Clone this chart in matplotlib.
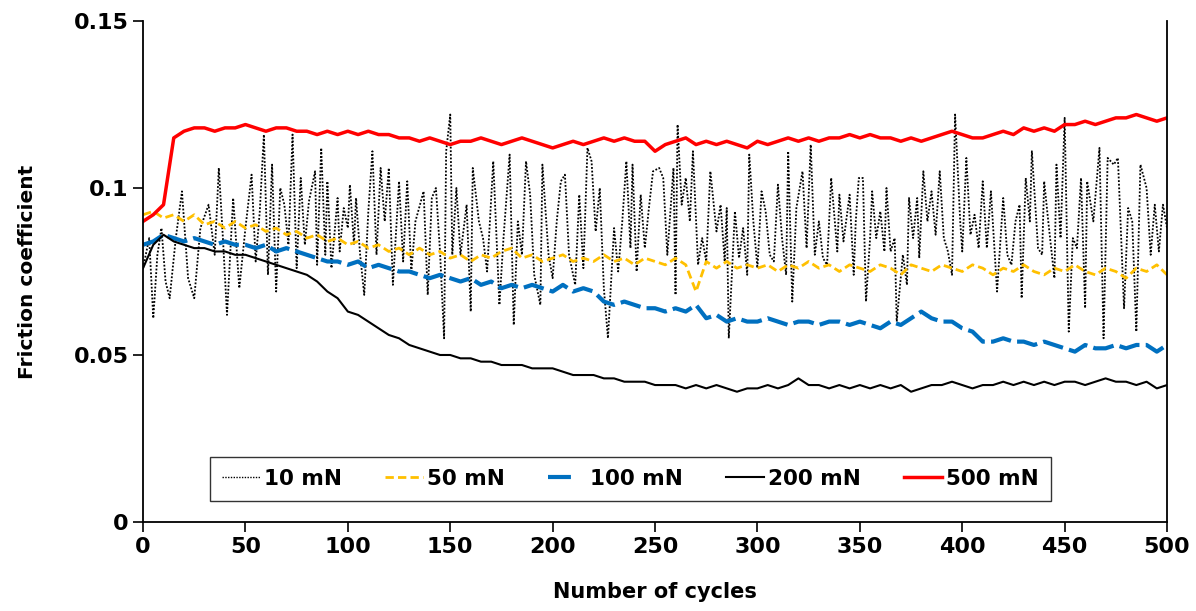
import matplotlib
matplotlib.use("Agg")
import matplotlib.pyplot as plt
from matplotlib.lines import Line2D

plt.rcParams['font.family'] = ['DejaVu Sans']
plt.rcParams['font.weight'] = 'bold'

# cycles sampled every 5 for the smoother curves
cycles = list(range(0, 501, 5))

mu_500 = [0.090, 0.092, 0.095, 0.115, 0.117, 0.118, 0.118, 0.117, 0.118, 0.118,
          0.119, 0.118, 0.117, 0.118, 0.118, 0.117, 0.117, 0.116, 0.117, 0.116,
          0.117, 0.116, 0.117, 0.116, 0.116, 0.115, 0.115, 0.114, 0.115, 0.114,
          0.113, 0.114, 0.114, 0.115, 0.114, 0.113, 0.114, 0.115, 0.114, 0.113,
          0.112, 0.113, 0.114, 0.113, 0.114, 0.115, 0.114, 0.115, 0.114, 0.114,
          0.111, 0.113, 0.114, 0.115, 0.113, 0.114, 0.113, 0.114, 0.113, 0.112,
          0.114, 0.113, 0.114, 0.115, 0.114, 0.115, 0.114, 0.115, 0.115, 0.116,
          0.115, 0.116, 0.115, 0.115, 0.114, 0.115, 0.114, 0.115, 0.116, 0.117,
          0.116, 0.115, 0.115, 0.116, 0.117, 0.116, 0.118, 0.117, 0.118, 0.117,
          0.119, 0.119, 0.120, 0.119, 0.120, 0.121, 0.121, 0.122, 0.121, 0.120, 0.121]

mu_200 = [0.076, 0.083, 0.086, 0.084, 0.083, 0.082, 0.082, 0.081, 0.081, 0.080,
          0.080, 0.079, 0.078, 0.077, 0.076, 0.075, 0.074, 0.072, 0.069, 0.067,
          0.063, 0.062, 0.060, 0.058, 0.056, 0.055, 0.053, 0.052, 0.051, 0.050,
          0.050, 0.049, 0.049, 0.048, 0.048, 0.047, 0.047, 0.047, 0.046, 0.046,
          0.046, 0.045, 0.044, 0.044, 0.044, 0.043, 0.043, 0.042, 0.042, 0.042,
          0.041, 0.041, 0.041, 0.040, 0.041, 0.040, 0.041, 0.040, 0.039, 0.040,
          0.040, 0.041, 0.040, 0.041, 0.043, 0.041, 0.041, 0.040, 0.041, 0.040,
          0.041, 0.040, 0.041, 0.040, 0.041, 0.039, 0.040, 0.041, 0.041, 0.042,
          0.041, 0.040, 0.041, 0.041, 0.042, 0.041, 0.042, 0.041, 0.042, 0.041,
          0.042, 0.042, 0.041, 0.042, 0.043, 0.042, 0.042, 0.041, 0.042, 0.040, 0.041]

mu_100 = [0.083, 0.084, 0.086, 0.085, 0.084, 0.085, 0.084, 0.083, 0.084, 0.083,
          0.083, 0.082, 0.083, 0.081, 0.082, 0.081, 0.080, 0.079, 0.078, 0.078,
          0.077, 0.078, 0.076, 0.077, 0.076, 0.075, 0.075, 0.074, 0.073, 0.074,
          0.073, 0.072, 0.073, 0.071, 0.072, 0.070, 0.071, 0.070, 0.071, 0.070,
          0.069, 0.071, 0.069, 0.070, 0.069, 0.066, 0.065, 0.066, 0.065, 0.064,
          0.064, 0.063, 0.064, 0.063, 0.065, 0.061, 0.062, 0.060, 0.061, 0.060,
          0.060, 0.061, 0.060, 0.059, 0.060, 0.060, 0.059, 0.060, 0.060, 0.059,
          0.060, 0.059, 0.058, 0.060, 0.059, 0.061, 0.063, 0.061, 0.060, 0.060,
          0.058, 0.057, 0.054, 0.054, 0.055, 0.054, 0.054, 0.053, 0.054, 0.053,
          0.052, 0.051, 0.053, 0.052, 0.052, 0.053, 0.052, 0.053, 0.053, 0.051, 0.053]

mu_50 = [0.092, 0.093, 0.091, 0.092, 0.090, 0.092, 0.089, 0.090, 0.088, 0.090,
         0.088, 0.089, 0.087, 0.088, 0.086, 0.087, 0.085, 0.086, 0.084, 0.085,
         0.083, 0.084, 0.082, 0.083, 0.081, 0.082, 0.080, 0.082, 0.080, 0.081,
         0.079, 0.080, 0.078, 0.080, 0.079, 0.081, 0.082, 0.079, 0.080, 0.078,
         0.079, 0.080, 0.078, 0.079, 0.078, 0.080, 0.078, 0.079, 0.077, 0.079,
         0.078, 0.077, 0.079, 0.077, 0.069, 0.078, 0.076, 0.078, 0.076, 0.077,
         0.076, 0.077, 0.075, 0.077, 0.076, 0.078, 0.076, 0.077, 0.075, 0.077,
         0.076, 0.075, 0.077, 0.076, 0.074, 0.077, 0.076, 0.075, 0.077, 0.076,
         0.075, 0.077, 0.076, 0.074, 0.076, 0.075, 0.077, 0.075, 0.074, 0.076,
         0.075, 0.077, 0.075, 0.074, 0.076, 0.075, 0.073, 0.076, 0.075, 0.077, 0.074]

# 10 mN: turning points
cycles_10 = [0, 3, 5, 7, 9, 11, 13, 16, 19, 22, 25, 28, 32, 35, 37, 39, 41, 44, 47, 50,
             53, 55, 57, 59, 61, 63, 65, 67, 69, 71, 73, 75, 77, 79, 81, 84, 85, 87, 89, 90,
             92, 95, 96, 98, 100, 101, 103, 104, 106, 108, 110, 112, 114, 116, 118, 120, 122, 125, 127, 129,
             131, 133, 137, 139, 141, 143, 145, 147, 148, 150, 151, 153, 155, 158, 160, 161, 164, 166, 168, 171,
             174, 176, 179, 181, 183, 185, 187, 189, 191, 194, 195, 198, 200, 202, 204, 206, 208, 211, 213, 215,
             217, 219, 221, 223, 225, 227, 230, 232, 234, 236, 238, 239, 241, 243, 245, 247, 249, 252, 254, 256,
             259, 260, 261, 263, 265, 267, 268.5, 271, 273, 275, 277, 280, 282, 284, 285, 286, 289, 291, 293, 295,
             296, 298, 300, 302, 304, 306, 308, 310, 312, 314, 315, 317, 319, 322, 324, 326, 328, 330, 332, 334,
             336, 339, 340, 342, 345, 347, 348, 349.5, 351.5, 353, 355, 356, 358, 360, 362, 363, 365, 367, 368, 371,
             373, 374, 376, 378, 379, 381, 383, 385, 387, 389, 391, 393, 395, 396.5, 399, 400, 402, 404, 406, 408,
             410, 412, 414, 417, 420, 422, 424, 426, 428, 429, 431, 433, 434, 437, 439, 440, 442, 445, 446, 448,
             450, 452, 454, 456, 458, 460, 461, 464, 467, 469, 471, 474, 476, 479, 481, 483, 485, 487, 490, 492,
             494, 496, 498, 500]
mu_10 = [0.076, 0.085, 0.061, 0.080, 0.088, 0.072, 0.067, 0.085, 0.099, 0.073, 0.067, 0.088, 0.095, 0.080, 0.106, 0.085, 0.062, 0.097, 0.070, 0.088,
         0.104, 0.078, 0.093, 0.116, 0.074, 0.107, 0.069, 0.100, 0.095, 0.083, 0.116, 0.076, 0.103, 0.083, 0.096, 0.105, 0.077, 0.112, 0.080, 0.102,
         0.076, 0.097, 0.081, 0.094, 0.088, 0.101, 0.083, 0.097, 0.080, 0.068, 0.093, 0.111, 0.080, 0.106, 0.090, 0.106, 0.071, 0.102, 0.078, 0.102,
         0.075, 0.090, 0.099, 0.068, 0.097, 0.100, 0.081, 0.055, 0.111, 0.122, 0.080, 0.100, 0.080, 0.095, 0.063, 0.106, 0.090, 0.085, 0.075, 0.108,
         0.065, 0.085, 0.110, 0.059, 0.090, 0.080, 0.108, 0.098, 0.074, 0.065, 0.107, 0.080, 0.073, 0.090, 0.102, 0.104, 0.080, 0.071, 0.098, 0.076,
         0.112, 0.108, 0.087, 0.100, 0.070, 0.055, 0.088, 0.075, 0.090, 0.108, 0.082, 0.107, 0.075, 0.098, 0.082, 0.094, 0.105, 0.106, 0.103, 0.080,
         0.106, 0.068, 0.119, 0.095, 0.103, 0.090, 0.111, 0.077, 0.085, 0.078, 0.105, 0.087, 0.095, 0.078, 0.094, 0.055, 0.093, 0.079, 0.088, 0.074,
         0.110, 0.090, 0.076, 0.099, 0.093, 0.080, 0.078, 0.101, 0.085, 0.074, 0.111, 0.066, 0.094, 0.105, 0.082, 0.113, 0.080, 0.090, 0.079, 0.077,
         0.103, 0.081, 0.098, 0.084, 0.098, 0.074, 0.090, 0.103, 0.103, 0.066, 0.085, 0.099, 0.085, 0.093, 0.081, 0.100, 0.081, 0.085, 0.060, 0.080,
         0.071, 0.097, 0.085, 0.097, 0.079, 0.105, 0.090, 0.099, 0.086, 0.105, 0.085, 0.081, 0.074, 0.122, 0.090, 0.081, 0.109, 0.086, 0.092, 0.082,
         0.102, 0.082, 0.099, 0.069, 0.097, 0.080, 0.077, 0.090, 0.095, 0.067, 0.103, 0.090, 0.111, 0.082, 0.080, 0.102, 0.090, 0.073, 0.107, 0.085,
         0.121, 0.057, 0.085, 0.082, 0.103, 0.064, 0.102, 0.090, 0.112, 0.055, 0.109, 0.107, 0.109, 0.064, 0.094, 0.090, 0.057, 0.107, 0.100, 0.080,
         0.095, 0.081, 0.095, 0.088]

labels = ['10 mN', '50 mN', '100 mN', '200 mN', '500 mN']

fig = plt.figure(figsize=(11.96, 6.11), dpi=100)
ax = fig.add_axes([0.1196, 0.1457, 0.8562, 0.8199])

ax.plot(cycles_10, mu_10, color='black', lw=1.3, linestyle=(0, (1, 1)))
ax.plot(cycles, mu_50, color='#FFC000', lw=2.0, linestyle=(0, (3, 1.5)))
ax.plot(cycles, mu_100, color='#0070C0', lw=3.0, linestyle=(0, (5, 1.5)))
ax.plot(cycles, mu_200, color='black', lw=1.5)
ax.plot(cycles, mu_500, color='#FF0000', lw=2.5)

ax.set_xlim(0, 500)
ax.set_ylim(0, 0.15)
ax.set_xticks(range(0, 501, 50))
ax.set_yticks([0, 0.05, 0.1, 0.15])
ax.set_yticklabels(['0', '0.05', '0.1', '0.15'])
ax.tick_params(labelsize=16, length=7, width=1.2, direction='out')
for lab in ax.get_xticklabels() + ax.get_yticklabels():
    lab.set_fontweight('bold')
ax.spines['top'].set_visible(False)
for s in ['left', 'bottom', 'right']:
    ax.spines[s].set_linewidth(1.3)

ax.set_xlabel('Number of cycles', fontsize=15, fontweight='bold', labelpad=18)
ax.set_ylabel('Friction coefficient', fontsize=14.5, fontweight='bold', labelpad=26)

# legend keys drawn like the original's short samples
handles = [
    Line2D([], [], color='black', lw=1.0, linestyle=(0, (1, 1))),
    Line2D([], [], color='#FFC000', lw=2.0, linestyle=(0, (3, 1.5))),
    Line2D([], [], color='#0070C0', lw=3.0, linestyle=(0, (5.5, 12))),
    Line2D([], [], color='black', lw=1.5),
    Line2D([], [], color='#FF0000', lw=2.5),
]
leg = ax.legend(handles, labels, loc='center', bbox_to_anchor=(0.476, 0.086), ncol=5,
                fontsize=15.5, frameon=True, fancybox=False, edgecolor='black',
                handlelength=1.75, columnspacing=2.0, handletextpad=0.2,
                borderpad=0.55, borderaxespad=0)
leg.get_frame().set_linewidth(1.0)
for t in leg.get_texts():
    t.set_fontweight('bold')

fig.savefig('out.png', dpi=100)
